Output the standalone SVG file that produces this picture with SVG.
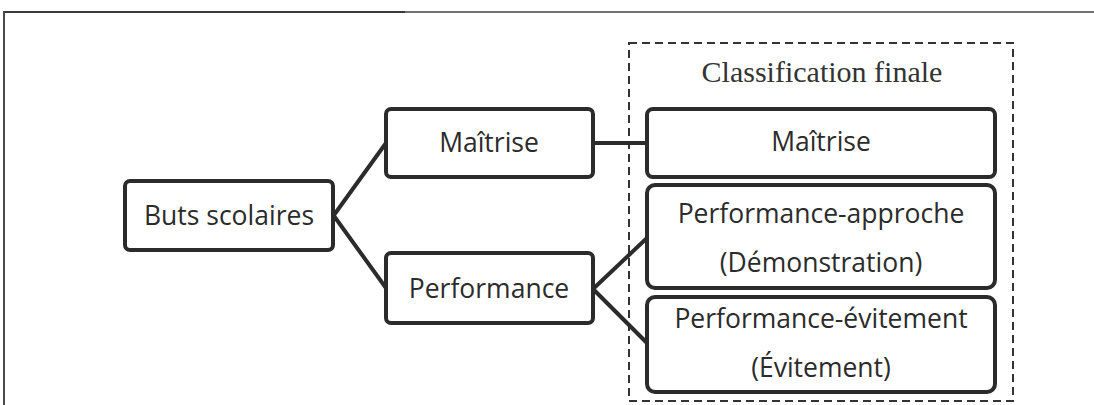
<svg xmlns="http://www.w3.org/2000/svg" width="1094" height="405" viewBox="0 0 1094 405">
<style>
.box{fill:#fff;stroke:#2b2b2b;stroke-width:4}
.lbl{font-family:"Open Sans","Liberation Sans",sans-serif;font-size:26.5px;fill:#2b2b2b;text-anchor:middle}
.conn{stroke:#2b2b2b;stroke-width:4;fill:none}
.title{font-family:"Liberation Serif","Times New Roman",serif;font-size:30px;fill:#333;text-anchor:middle}
</style>
<rect width="1094" height="405" fill="#fff"/>
<g id="frame">
<line x1="4" y1="12" x2="405" y2="12" stroke="#3a3a3a" stroke-width="2"/>
<line x1="405" y1="12" x2="1094" y2="12" stroke="#707070" stroke-width="2"/>
<line x1="4" y1="11" x2="4" y2="405" stroke="#4a4a4a" stroke-width="2"/>
</g>
<g id="classification">
<rect x="629" y="43" width="384" height="358" fill="none" stroke="#333" stroke-width="2" stroke-dasharray="8 5"/>
<text class="title" x="822" y="82">Classification finale</text>
</g>
<g id="connectors">
<line class="conn" x1="334" y1="215" x2="386" y2="143"/>
<line class="conn" x1="334" y1="216" x2="386" y2="288"/>
<line class="conn" x1="593" y1="143" x2="647" y2="143"/>
<line class="conn" x1="593" y1="289" x2="647" y2="238"/>
<line class="conn" x1="593" y1="289" x2="647" y2="343"/>
</g>
<g id="buts">
<rect class="box" x="125" y="181" width="208" height="69" rx="5"/>
<text class="lbl" x="229" y="225">Buts scolaires</text>
</g>
<g id="maitrise1">
<rect class="box" x="386" y="109" width="207" height="68" rx="5"/>
<text class="lbl" x="489" y="152">Maîtrise</text>
</g>
<g id="performance">
<rect class="box" x="386" y="253" width="207" height="70" rx="5"/>
<text class="lbl" x="489" y="298">Performance</text>
</g>
<g id="maitrise2">
<rect class="box" x="647" y="109" width="348" height="68" rx="6"/>
<text class="lbl" x="821" y="151">Maîtrise</text>
</g>
<g id="perf-approche">
<rect class="box" x="647" y="185" width="348" height="103" rx="8"/>
<text class="lbl" x="821" y="223">Performance-approche</text>
<text class="lbl" x="821" y="272">(Démonstration)</text>
</g>
<g id="perf-evitement">
<rect class="box" x="647" y="297" width="348" height="95" rx="8"/>
<text class="lbl" x="821" y="328">Performance-évitement</text>
<text class="lbl" x="821" y="377">(Évitement)</text>
</g>
</svg>
